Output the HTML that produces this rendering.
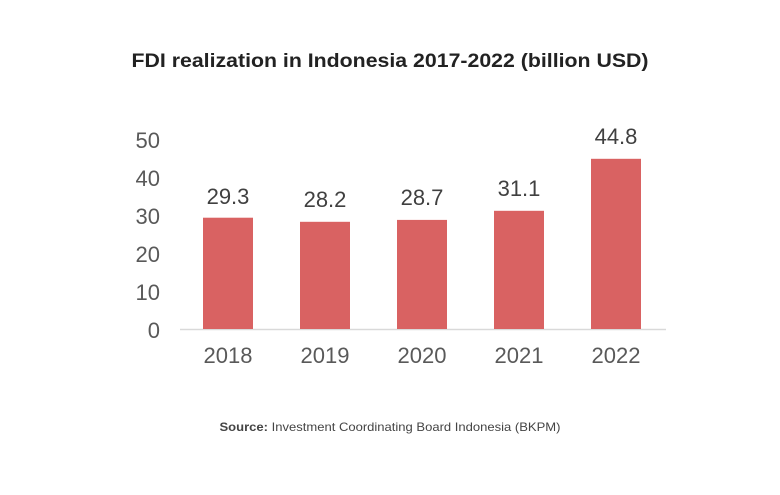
<!DOCTYPE html>
<html><head><style>body{margin:0;background:#fff}</style></head><body>
<svg width="780" height="490" xmlns="http://www.w3.org/2000/svg" font-family="Liberation Sans, sans-serif">
<rect width="780" height="490" fill="#fff"/>
<text x="390" y="67" text-anchor="middle" font-size="19.5" font-weight="bold" fill="#222" textLength="517" lengthAdjust="spacingAndGlyphs">FDI realization in Indonesia 2017-2022 (billion USD)</text>
<g font-size="22" fill="#595959" text-anchor="end">
<text x="160" y="148">50</text><text x="160" y="186">40</text><text x="160" y="224">30</text>
<text x="160" y="262">20</text><text x="160" y="300">10</text><text x="160" y="338">0</text>
</g>
<line x1="180" y1="329.5" x2="666" y2="329.5" stroke="#d9d9d9" stroke-width="1.5"/>
<g fill="#d96262">
<rect x="203" y="217.7" width="50" height="111.3"/>
<rect x="300" y="221.8" width="50" height="107.2"/>
<rect x="397" y="219.9" width="50" height="109.1"/>
<rect x="494" y="210.8" width="50" height="118.2"/>
<rect x="591" y="158.8" width="50" height="170.2"/>
</g>
<g font-size="22" fill="#404040" text-anchor="middle">
<text x="228" y="204">29.3</text><text x="325" y="207">28.2</text><text x="422" y="205">28.7</text>
<text x="519" y="196">31.1</text><text x="616" y="144">44.8</text>
</g>
<g font-size="22" fill="#595959" text-anchor="middle">
<text x="228" y="363">2018</text><text x="325" y="363">2019</text><text x="422" y="363">2020</text>
<text x="519" y="363">2021</text><text x="616" y="363">2022</text>
</g>
<text x="390" y="431" text-anchor="middle" font-size="12" fill="#444" textLength="341" lengthAdjust="spacingAndGlyphs"><tspan font-weight="bold">Source:</tspan> Investment Coordinating Board Indonesia (BKPM)</text>
</svg>
</body></html>
